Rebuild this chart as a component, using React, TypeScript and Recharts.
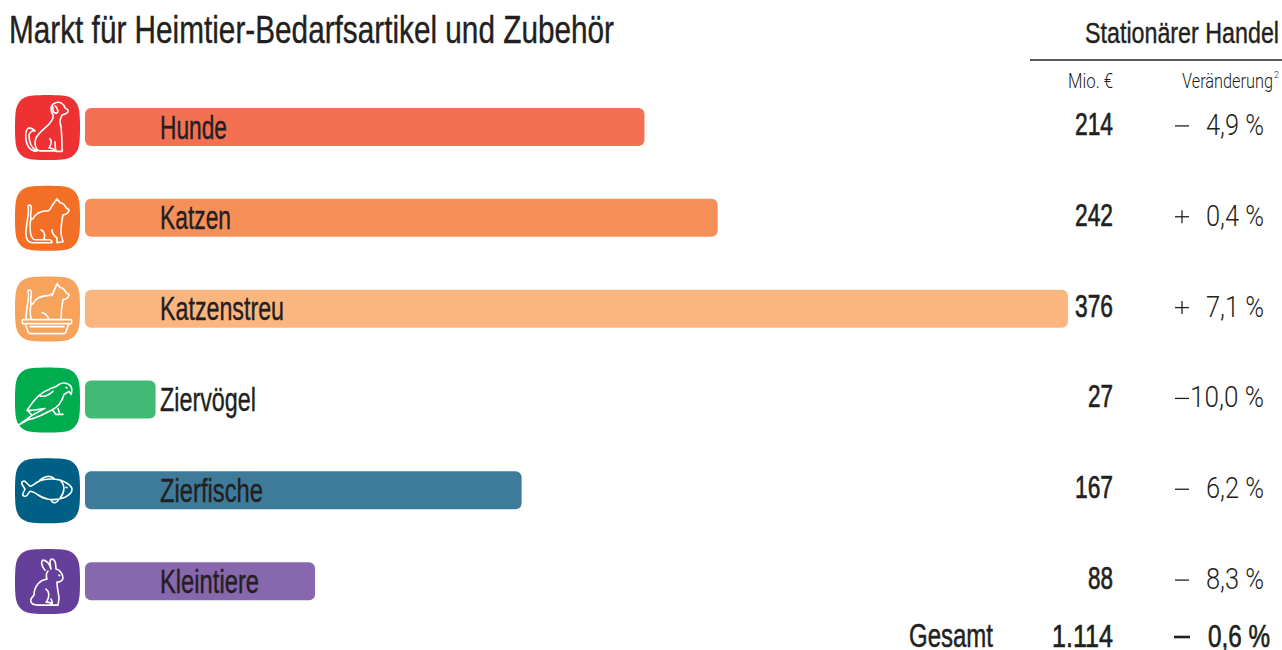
import React from "react";
import { BarChart, Bar, XAxis, YAxis, Cell, LabelList } from "recharts";

const categories = ["Hunde", "Katzen", "Katzenstreu", "Ziervögel", "Zierfische", "Kleintiere"];
const revenue = [214, 242, 376, 27, 167, 88];
const changes = [-4.9, 0.4, 7.1, -10.0, -6.2, -8.3];
const barColors = ["#F47052", "#F79058", "#FBB57F", "#40BA75", "#3E7A9A", "#8767AD"];
const iconColors = ["#EE3233", "#F36F26", "#F8A35C", "#00AC4E", "#005F85", "#653F99"];
const title = "Markt für Heimtier-Bedarfsartikel und Zubehör";
const channel = "Stationärer Handel";
const totalLabel = "Gesamt";
const totalRevenue = "1.114";
const totalChange = "0,6 %";

const labelWidths = [67, 71, 124, 96, 103, 99];
const valueWidths = [38, 38, 38, 25, 38, 25];

const NARROW = "'Liberation Sans Narrow', 'Liberation Sans', sans-serif";
const LIGHT = "Roboto, 'Liberation Sans', sans-serif";
const INK = "#231F20";

const data = categories.map((name, i) => ({ name, revenue: revenue[i] }));

const SQUIRCLE =
  "M18 .5C26-.2 39-.2 47 .5 58 1.5 63.5 7 64.5 18 65.2 26 65.2 39 64.5 47 63.5 58 58 63.5 47 64.5 39 65.2 26 65.2 18 64.5 7 63.5 1.5 58 .5 47-.2 39-.2 26 .5 18 1.5 7 7 1.5 18 .5Z";

const CAT =
  "M37 20L42 13L45 17C49 17 50 20 51 22L54 24C54 27 51 29 48 29C47 34 46 40 46 46C46 50 47 53 48 56L42 57L42 52C39 50 37 47 37 44M13 20C16 18 17 21 16 26C15 31 16 35 18 33C21 27 27 25 33 25C35 25 36 22 37 20M13 20C15 28 11 36 11 48C11 54 14 57 18 57L36 57C38 57 37 54 34 54L28 54C31 51 30 46 26 44M16 32C14 40 15 54 20 54L28 54";

const ICONS: string[] = [
  // dog
  "M38 20C35 16 35 10 40 8C45 6 49 9 50 13L53 15C54 18 51 19 47 20C46 23 45 24 45 27C47 34 47 46 47 54C47 56 48 56 47 56.5L41 56.5C40 53 40 50 40 47M38 20C39 23 37 25 35 28C31 33 24 37 21 43C19 48 20 55 25 56L40 56C39 53 37 54 35 53M38 12C37 16 39 19 42 18C44 17 42 12 40 11M14 33C10 34 10 43 12 49C14 54 18 57 22 56C16 53 14 46 14 40C15 37 18 35 20 36C17 33 15 33 14 33M35 44C37 46 36 50 34 53",
  // cat
  CAT,
  // cat in litter box
  "M37 19L42 7L45 11C49 11 50 14 51 16L54 18C54 21 51 23 48 23C47 28 46 34 46 43M13 14C16 12 17 15 16 20C15 25 16 29 18 27C21 21 27 19 33 19C35 19 36 16 37 19M13 14C15 22 11 30 11 43M16 26C15 31 15 38 16 43M27 36C31 37 33 40 34 43M8 43L56 43C57 43 57 47 56 47L8 47C7 47 7 43 8 43ZM10 47L13 55C13 57 14 57 16 57L48 57C50 57 51 57 51 55L54 47M15 50L49 50",
  // parrot
  "M3 58L17 48L30 41C24 42 16 43 12 43C17 35 24 25 34 22C38 20 41 20 44 17C47 15 52 15 55 18C57 20 57 24 56 27L54 24C52 25 51 26 49 27C47 35 43 40 36 43C30 46 22 51 14 52L3 58M12 43C15 44 15 46 17 48M24 28C28 30 34 28 38 24M38 43L41 47L48 47M43 41L45 47M51 20L52 20.5",
  // fish
  "M22 24C31 19 45 20 52 25C55 27 57 29 57 31C57 34 54 37 50 39C41 43 29 42 22 36C19 34 17 33 15 33L12 37C10 39 7 38 8 35L10 31L7 26C6 23 9 22 11 24L15 28C17 28 19 26 22 24ZM24 23C26 20 30 19 33 18C36 18 38 19 40 21M46 23C50 27 50 34 45 40M22 36C26 39 30 40 33 41M36 42C38 46 42 45 44 41M51 29L52 29.5",
  // rabbit
  "M30 21C26 17 26 12 28 11C32 11 35 16 36 20C35 15 34 10 37 10C40 10 41 15 41 20C45 21 48 25 48 29C48 32 44 33 42 33C42 38 43 43 44 48C44 52 43 55 43 56L37 56C38 54 37 52 36 50M33 22C31 24 31 27 32 30C24 31 19 38 19 46C17 48 15 51 16 53C17 56 20 56 23 56L37 56C37 54 34 53 31 53M31 40C34 42 35 47 32 52M44 26L44.5 26.5",
];

function fmt(v: number) {
  return Math.abs(v).toFixed(1).replace(".", ",") + " %";
}

function RowTick(props: any) {
  const i: number = props.index;
  const y: number = props.y;
  const c = changes[i];
  const big = Math.abs(c) >= 10;
  return (
    <g>
      <g transform={`translate(15,${y - 32.5})`}>
        <path d={SQUIRCLE} fill={iconColors[i]} />
        <path d={ICONS[i]} fill="none" stroke="#fff" strokeWidth={1.6} strokeLinejoin="round" strokeLinecap="round" />
      </g>
      <text x={1113 - valueWidths[i]} y={y + 7.5} fontFamily={NARROW} fontSize={31} fill={INK} stroke={INK} strokeWidth={0.7}
        textLength={valueWidths[i]} lengthAdjust="spacingAndGlyphs">{revenue[i]}</text>
      <line x1={1175} x2={1189} y1={y - 1.5} y2={y - 1.5} stroke={INK} strokeWidth={1.3} />
      {c > 0 && <line x1={1182} x2={1182} y1={y - 8} y2={y + 5} stroke={INK} strokeWidth={1.3} />}
      <text x={big ? 1190 : 1206} y={y + 7.5} fontFamily={LIGHT} fontWeight={300} fontSize={30} fill={INK}
        textLength={big ? 74 : 58} lengthAdjust="spacingAndGlyphs">{fmt(c)}</text>
    </g>
  );
}

function NameLabel(props: any) {
  const { index, y, height } = props;
  return (
    <text x={160} y={y + height / 2 + 11.5} fontFamily={NARROW} fontSize={33} fill={INK}
      stroke={INK} strokeWidth={0.4} textLength={labelWidths[index]} lengthAdjust="spacingAndGlyphs">
      {categories[index]}
    </text>
  );
}

export default function App() {
  return (
    <div style={{ position: "absolute", left: 0, top: 0, width: 1282, height: 650, overflow: "hidden", background: "#fff" }}>
      <BarChart
        width={1282}
        height={650}
        data={data}
        layout="vertical"
        margin={{ left: 0, right: 214, top: 82, bottom: 23 }}
        barCategoryGap={0}
      >
        <XAxis type="number" hide domain={[0, 376]} />
        <YAxis type="category" dataKey="name" width={85} axisLine={false} tickLine={false} interval={0} tick={<RowTick />} />
        <Bar dataKey="revenue" barSize={38} radius={6} isAnimationActive={false}>
          {data.map((d, i) => (
            <Cell key={d.name} fill={barColors[i]} />
          ))}
          <LabelList dataKey="name" content={<NameLabel />} />
        </Bar>
      </BarChart>
      <svg width={1282} height={650} style={{ position: "absolute", left: 0, top: 0, pointerEvents: "none" }}>
        <text x={9} y={43} fontFamily={NARROW} fontSize={38} fill={INK} stroke={INK} strokeWidth={0.4} textLength={605} lengthAdjust="spacingAndGlyphs">{title}</text>
        <text x={1085} y={43} fontFamily={NARROW} fontSize={30} fill={INK} stroke={INK} strokeWidth={0.4} textLength={194} lengthAdjust="spacingAndGlyphs">{channel}</text>
        <line x1={1030} x2={1282} y1={60} y2={60} stroke={INK} strokeWidth={1.3} />
        <text x={1068} y={88} fontFamily={LIGHT} fontWeight={300} fontSize={21} fill={INK} textLength={45} lengthAdjust="spacingAndGlyphs">Mio. €</text>
        <text x={1182} y={88} fontFamily={LIGHT} fontWeight={300} fontSize={21} fill={INK} textLength={91} lengthAdjust="spacingAndGlyphs">Veränderung</text>
        <text x={1274} y={78} fontFamily={LIGHT} fontWeight={300} fontSize={9} fill={INK}>2</text>
        <text x={909} y={647} fontFamily={NARROW} fontSize={33} fill={INK} stroke={INK} strokeWidth={0.5} textLength={84} lengthAdjust="spacingAndGlyphs">{totalLabel}</text>
        <text x={1052} y={647} fontFamily={NARROW} fontSize={32} fill={INK} stroke={INK} strokeWidth={0.7} textLength={61} lengthAdjust="spacingAndGlyphs">{totalRevenue}</text>
        <line x1={1174} x2={1190} y1={637} y2={637} stroke={INK} strokeWidth={2.6} />
        <text x={1208} y={647} fontFamily={NARROW} fontSize={32} fill={INK} stroke={INK} strokeWidth={0.7} textLength={62} lengthAdjust="spacingAndGlyphs">{totalChange}</text>
      </svg>
    </div>
  );
}
